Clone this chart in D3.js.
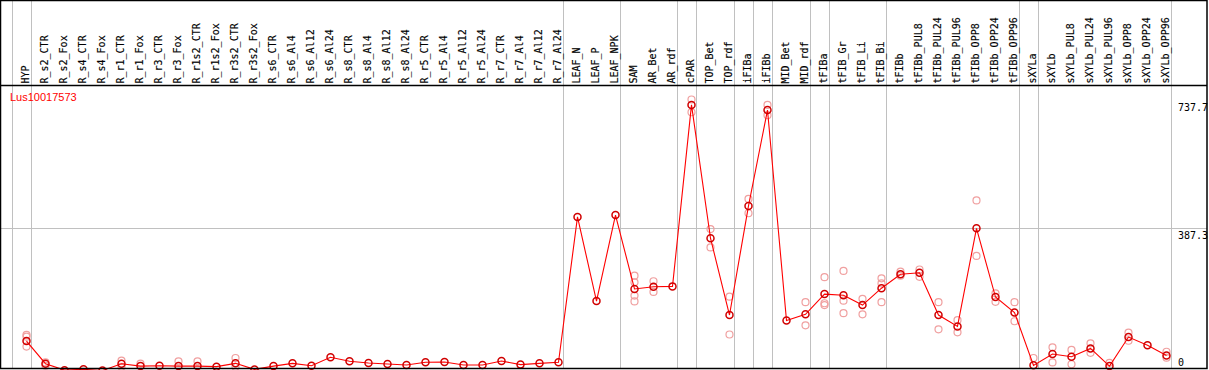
<!DOCTYPE html>
<html><head><meta charset="utf-8">
<script src="https://cdn.jsdelivr.net/npm/d3@7"></script>
<style>body{margin:0;background:#fff;}svg{display:block;}</style>
</head><body><svg id="c" width="1209" height="370"></svg>
<script>
const categories = ["HYP","R_s2_CTR","R_s2_Fox","R_s4_CTR","R_s4_Fox","R_r1_CTR","R_r1_Fox","R_r3_CTR","R_r3_Fox","R_r1s2_CTR","R_r1s2_Fox","R_r3s2_CTR","R_r3s2_Fox","R_s6_CTR","R_s6_Al4","R_s6_Al12","R_s6_Al24","R_s8_CTR","R_s8_Al4","R_s8_Al12","R_s8_Al24","R_r5_CTR","R_r5_Al4","R_r5_Al12","R_r5_Al24","R_r7_CTR","R_r7_Al4","R_r7_Al12","R_r7_Al24","LEAF_N","LEAF_P","LEAF_NPK","SAM","AR_Bet","AR_rdf","cPAR","TOP_Bet","TOP_rdf","iFIBa","iFIBb","MID_Bet","MID_rdf","tFIBa","tFIB_Gr","tFIB_Li","tFIB_Bi","tFIBb","tFIBb_PUL8","tFIBb_PUL24","tFIBb_PUL96","tFIBb_OPP8","tFIBb_OPP24","tFIBb_OPP96","sXYLa","sXYLb","sXYLb_PUL8","sXYLb_PUL24","sXYLb_PUL96","sXYLb_OPP8","sXYLb_OPP24","sXYLb_OPP96"];
// group sizes (separator lines after each group)
const groupSizes = [1,28,3,3,1,2,1,1,2,1,3,7,1,7];
const geneName = "Lus10017573";
const means = [80,18.5,1,3.5,0,18.5,12,13,12,12,10.5,19.5,3,12,19.5,13,36,25,20.5,17.5,15,22.5,23,15,15,26,16,19.5,22.5,
  418,189,423,222,228,229,723,360,151,448,709,136,153,208,205,178,224,262,266,151,120,387,200,158,
  14,45,37.5,60,12,91,69,41];
const replicates = [[97,92,65],[22,13],[],[],[],[27,10],[18.5],[],[25],[25],[],[34,10],[],[],[],[],[],[],[],[],[],[],[],[],[],[],[],[],[],
  [],[],[],[258,240,204,188],[243,214],[],[737.7,703],[385,335],[201,98],[467,428],[723,695],[],[186,123],[254,183,178],[271,190,156],[195,153],[251,237,186],[269,258],[275,255],[186,112],[137,104],[463,312],[210,187],[186,134],
  [34],[63,22],[56,17],[74,48],[21],[103,81],[],[51,35]];
const tickValues = [0, 387.3, 737.7];
const tickLabels = ["0","387.3","737.7"];

const svg = d3.select("#c");
const padL = 1, padR = 1207, padT = 0.5, headerBottom = 85.5, padB = 368.5;

const x = d3.scalePoint().domain(categories).range([26.5, 1166.5]);
const step = x.step();
const y = d3.scaleLinear().domain([0, 737.7]).range([370.5, 99.5]);

// separator lines
const seps = [x(categories[0]) - step + 4];
let acc = 0;
groupSizes.forEach(s => { acc += s; seps.push(x(categories[acc-1]) + 4); });
svg.append("g").selectAll("line").data(seps).join("line")
  .attr("x1", d => Math.round(d)+0.5).attr("x2", d => Math.round(d)+0.5)
  .attr("y1", padT).attr("y2", padB)
  .attr("stroke", "#c0c0c0").attr("stroke-width", 1);

// horizontal grid line at middle tick
svg.append("line").attr("x1", padL).attr("x2", padR)
  .attr("y1", Math.round(y(tickValues[1]))+0.5).attr("y2", Math.round(y(tickValues[1]))+0.5)
  .attr("stroke", "#c0c0c0");

// header labels
svg.append("g").selectAll("text").data(categories).join("text")
  .attr("transform", d => `translate(${x(d)+2.6},83.5) rotate(-90)`)
  .attr("font-family", "DejaVu Sans Mono, monospace").attr("font-size", 10)
  .attr("fill", "#000").attr("stroke", "#000").attr("stroke-width", 0.15).text(d => d);

// tick labels on right
svg.append("g").selectAll("text").data(tickValues).join("text")
  .attr("x", 1178)
  .attr("y", (d,i) => i === 0 ? y(d) - 5 : y(d) + 4)
  .attr("dominant-baseline", (d,i) => i === 0 ? "auto" : "hanging")
  .attr("font-family", "DejaVu Sans Mono, monospace").attr("font-size", 10)
  .attr("fill", "#000").text((d,i) => tickLabels[i]);

// gene label
svg.append("text").attr("x", 10).attr("y", 101).attr("font-family", "Liberation Sans, Arial, sans-serif")
  .attr("font-size", 11).attr("fill", "#ff0000").text(geneName);

const plot = svg.append("g");
// replicates
const repPts = [];
replicates.forEach((r, i) => r.forEach(v => repPts.push({c: categories[i], v})));
plot.append("g").selectAll("circle").data(repPts).join("circle")
  .attr("cx", d => x(d.c)).attr("cy", d => y(d.v)).attr("r", 3.5)
  .attr("fill", "none").attr("stroke", "#f0a0a0").attr("stroke-width", 1.2);

// line through means
const line = d3.line().x((d,i) => x(categories[i])).y(d => y(d));
plot.append("path").datum(means).attr("d", line).attr("fill", "none")
  .attr("stroke", "#ff0000").attr("stroke-width", 1.1);

// mean circles
plot.append("g").selectAll("circle").data(means).join("circle")
  .attr("cx", (d,i) => x(categories[i])).attr("cy", d => y(d)).attr("r", 3.5)
  .attr("fill", "none").attr("stroke", "#d00000").attr("stroke-width", 1.5);

// borders
svg.append("rect").attr("x", 0.5).attr("y", padT).attr("width", padR - 0.5).attr("height", padB - padT)
  .attr("fill", "none").attr("stroke", "#000").attr("stroke-width", 1.5);
svg.append("line").attr("x1", 0).attr("x2", padR).attr("y1", headerBottom).attr("y2", headerBottom)
  .attr("stroke", "#000").attr("stroke-width", 1.5);
</script></body></html>
